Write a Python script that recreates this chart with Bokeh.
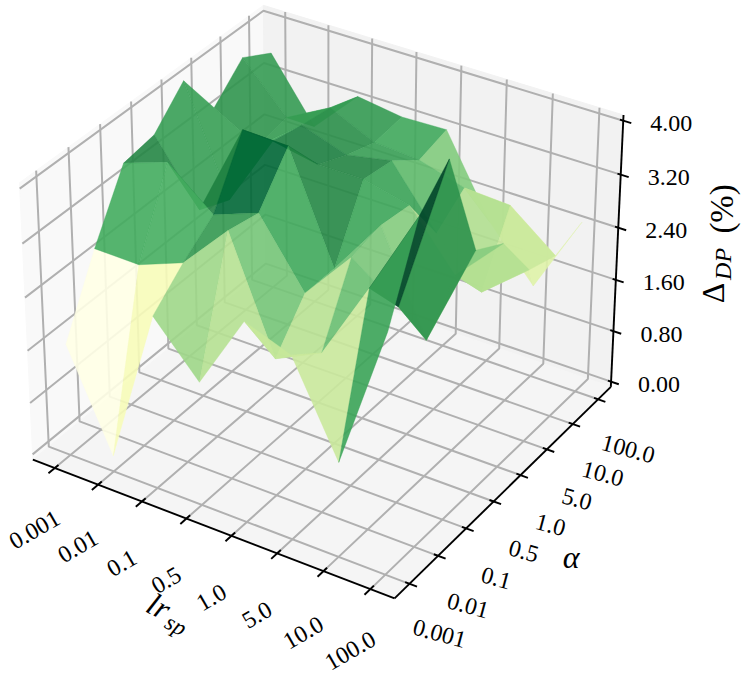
import numpy as np
from bokeh.plotting import figure
from bokeh.models import ColumnDataSource, Range1d
from bokeh.core.properties import value
from bokeh.embed import file_html
from bokeh.resources import INLINE

lr_labels = ["0.001", "0.01", "0.1", "0.5", "1.0", "5.0", "10.0", "100.0"]
alpha_labels = ["0.001", "0.01", "0.1", "0.5", "1.0", "5.0", "10.0", "100.0"]
dp_ticks = [0.0, 0.8, 1.6, 2.4, 3.2, 4.0]

# Delta_DP for each lr_sp (row) against alpha (column)
dp_lr_0001 = [1.63, 2.70, 3.62, 3.70, 4.17, 3.44, 3.87, 3.62]
dp_lr_001 = [0.16, 2.69, 3.85, 2.80, 2.60, 3.07, 3.17, 2.70]
dp_lr_01 = [2.53, 2.95, 3.30, 4.20, 3.70, 3.60, 3.53, 3.37]
dp_lr_05 = [1.79, 3.65, 3.55, 4.18, 3.57, 3.37, 3.22, 3.27]
dp_lr_1 = [2.93, 2.00, 2.60, 2.60, 3.57, 3.50, 3.17, 3.29]
dp_lr_5 = [2.68, 2.33, 3.36, 3.47, 3.41, 2.64, 2.97, 2.10]
dp_lr_10 = [1.35, 3.51, 2.87, 2.00, 2.60, 1.98, 2.93, 1.34]
dp_lr_100 = [3.50, 4.75, 5.20, 3.56, 3.30, 2.55, 2.40, 2.55]
Z = np.array([dp_lr_0001, dp_lr_001, dp_lr_01, dp_lr_05, dp_lr_1, dp_lr_5, dp_lr_10, dp_lr_100])

YLGN = ["#ffffe5", "#f7fcb9", "#d9f0a3", "#addd8e", "#78c679", "#41ab5d", "#238443", "#006837", "#004529"]

# 3D view, as in a perspective axes
ELEV, AZIM, ZASP, DIST = 31.75, -57.5, 2.95, 10.5
L, H, Z0, Z1 = -0.51, 7.51, -4 / 48, 4 + 4 / 48
CX = (3759.258, 325.537)
CY = (-3842.276, 288.087)

lo = np.array([L, L, Z0])
hi = np.array([H, H, Z1])
box = np.array([4, 4, ZASP]) * 1.8294640721620434 * 25 / 24 / np.linalg.norm([4, 4, ZASP])
e, a = np.radians(ELEV), np.radians(AZIM)
w = np.array([np.cos(e) * np.cos(a), np.cos(e) * np.sin(a), np.sin(e)])
eye = box / 2 + DIST * w
u = np.cross([0, 0, 1], w)
u = u / np.linalg.norm(u)
v = np.cross(w, u)


def proj(x, y, z):
    P = (np.stack(np.broadcast_arrays(x, y, z), -1).astype(float) - lo) / (hi - lo) * box
    q = P - eye
    d = -(q @ w)
    return (q @ u) / d, (q @ v) / d, d


def seg(*pts):
    X, Y, _ = proj(*np.array(pts, float).T)
    return list(X), list(Y)


p = figure(
    width=747, height=676, output_backend="svg", toolbar_location=None,
    x_axis_location=None, y_axis_location=None, min_border=0,
    x_range=Range1d((0 - CX[1]) / CX[0], (747 - CX[1]) / CX[0]),
    y_range=Range1d((676 - CY[1]) / CY[0], (0 - CY[1]) / CY[0]),
)
p.grid.visible = False
p.outline_line_color = None
p.background_fill_color = "#ffffff"

# panes
for pts, col in [
    ([(L, L, Z0), (L, H, Z0), (L, H, Z1), (L, L, Z1)], "#f9f9f9"),
    ([(L, H, Z0), (H, H, Z0), (H, H, Z1), (L, H, Z1)], "#f2f2f2"),
    ([(L, L, Z0), (H, L, Z0), (H, H, Z0), (L, H, Z0)], "#f5f5f5"),
]:
    xs, ys = seg(*pts)
    p.patch(xs, ys, fill_color=col, line_color=col, line_width=1)

# grid
gx, gy = [], []
for t in range(8):
    a1, b1 = seg((t, L, Z0), (t, H, Z0), (t, H, Z1))
    gx.append(a1); gy.append(b1)
    a1, b1 = seg((H, t, Z0), (L, t, Z0), (L, t, Z1))
    gx.append(a1); gy.append(b1)
for t in dp_ticks:
    a1, b1 = seg((L, L, t), (L, H, t), (H, H, t))
    gx.append(a1); gy.append(b1)
p.multi_line(gx, gy, line_color="#b0b0b0", line_width=2)

# axis lines and ticks
ax, ay = [], []
for pts in [((L, L, Z0), (H, L, Z0)), ((H, L, Z0), (H, H, Z0)), ((H, H, Z0), (H, H, Z1))]:
    a1, b1 = seg(*pts)
    ax.append(a1); ay.append(b1)
for t in range(8):
    a1, b1 = seg((t, L - 0.2, Z0), (t, L + 0.12, Z0))
    ax.append(a1); ay.append(b1)
    a1, b1 = seg((H - 0.09, t, Z0), (H + 0.16, t, Z0))
    ax.append(a1); ay.append(b1)
for t in dp_ticks:
    a1, b1 = seg((H - 0.07, H, t), (H + 0.17, H, t))
    ax.append(a1); ay.append(b1)
p.multi_line(ax, ay, line_color="#000000", line_width=1.9)

# surface: one quad per cell, far ones first, coloured by mean height
I, J = np.meshgrid(np.arange(8), np.arange(8), indexing="ij")
PX, PY, PD = proj(I, J, Z)
quads = []
for i in range(7):
    for j in range(7):
        idx = [(i, j), (i + 1, j), (i + 1, j + 1), (i, j + 1)]
        quads.append((
            np.mean([PD[k] for k in idx]),
            [PX[k] for k in idx], [PY[k] for k in idx],
            np.mean([Z[k] for k in idx]),
        ))
quads.sort(key=lambda q: -q[0])
means = np.array([q[3] for q in quads])
t = (means - means.min()) / (means.max() - means.min())
rgb = np.array([[int(c[k:k + 2], 16) for k in (1, 3, 5)] for c in YLGN], float)
pos = np.linspace(0, 1, len(YLGN))
cols = ["#%02x%02x%02x" % tuple(int(round(np.interp(s, pos, rgb[:, k]))) for k in range(3)) for s in t]
p.patches(
    source=ColumnDataSource(dict(xs=[q[1] for q in quads], ys=[q[2] for q in quads], c=cols)),
    xs="xs", ys="ys", fill_color="c", fill_alpha=0.9, line_color="c", line_alpha=0.5, line_width=0.7,
)

SERIF = value("Liberation Serif")


def label(x, y, z, dx, dy, txt, size, angle=0.0, italic=False):
    X, Y, _ = proj(x, y, z)
    p.text(
        [float(X)], [float(Y)], text=[txt], x_offset=dx, y_offset=dy,
        angle=np.radians(angle), text_font=SERIF, text_font_size=f"{size}px",
        text_font_style="italic" if italic else "normal",
        text_align="center", text_baseline="middle", text_color="#000000",
    )


for i, s in enumerate(lr_labels):
    label(i, L, Z0, -20, 62, s, 24, 30)
for j, s in enumerate(alpha_labels):
    label(H, j, Z0, 30, 50, s, 24, -15)
for t_, s in zip(dp_ticks, ["0.00", "0.80", "1.60", "2.40", "3.20", "4.00"]):
    label(H, H, t_, 48, 3, s, 24)

label(3.5, L, Z0, -50, 79, "lr", 32, -28, True)
label(3.5, L, Z0, -33, 98, "sp", 23, -28, True)
label(H, 3.5, Z0, 64, 69, "α", 32, 0, True)
label(H, H, 2, 96, 39, "Δ", 32, 90)
label(H, H, 2, 106, 10, "DP", 24, 90, True)
label(H, H, 2, 105, -45, "(%)", 33, 90)

open("out.html", "w").write(file_html(p, INLINE))
